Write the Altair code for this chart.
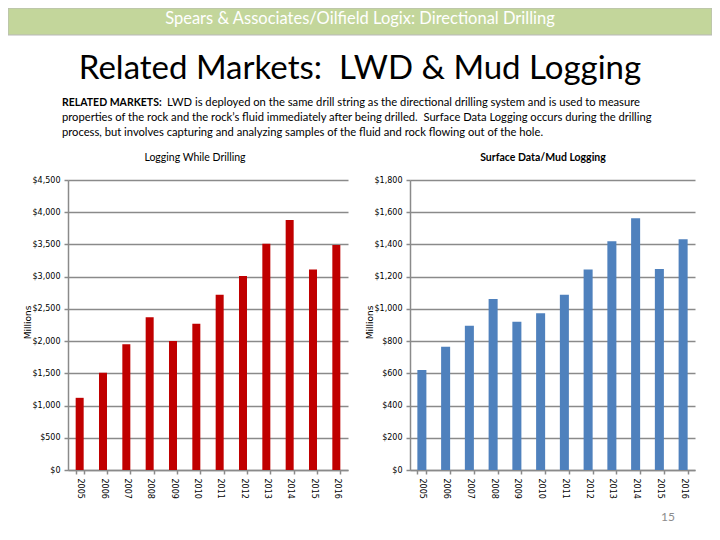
import altair as alt
import pandas as pd

# ---------------- data ----------------
years = ["2005", "2006", "2007", "2008", "2009", "2010",
         "2011", "2012", "2013", "2014", "2015", "2016"]
lwd_values = [1120, 1510, 1950, 2370, 2000, 2270, 2720, 3010, 3510, 3880, 3110, 3490]
mud_values = [620, 765, 895, 1062, 920, 973, 1087, 1245, 1420, 1562, 1248, 1432]
lwd_ticks = [0, 500, 1000, 1500, 2000, 2500, 3000, 3500, 4000, 4500]
mud_ticks = [0, 200, 400, 600, 800, 1000, 1200, 1400, 1600, 1800]

header_text = "Spears & Associates/Oilfield Logix: Directional Drilling"
title_text = "Related Markets:\u00a0 LWD & Mud Logging"
para_bold = "RELATED MARKETS:"
para_line1_rest = "LWD is deployed on the same drill string as the directional drilling system and is used to measure"
para_line2 = "properties of the rock and the rock\u2019s fluid immediately after being drilled.\u00a0 Surface Data Logging occurs during the drilling"
para_line3 = "process, but involves capturing and analyzing samples of the fluid and rock flowing out of the hole."
left_subtitle = "Logging While Drilling"
right_subtitle = "Surface Data/Mud Logging"
axis_title = "Millions"
page_number = "15"

# ---------------- style ----------------
GRID = "#8a8a8a"
RED = "#C00000"
BLUE = "#4F81BD"
BAND = "#C3D69B"
SLIDE_FONT = "Lato"
AXIS_FONT = "DejaVu Sans"

lwd_df = pd.DataFrame({"year": years, "value": lwd_values})
mud_df = pd.DataFrame({"year": years, "value": mud_values})
one = pd.DataFrame({"k": [0]})

axis_common = dict(
    labelFont=AXIS_FONT, labelFontSize=8, labelColor="#000000",
    domainColor=GRID, domainWidth=1.5, tickColor=GRID, tickWidth=1.5,
    tickSize=4, labelPadding=4,
)


def x_axis():
    return alt.Axis(orient="bottom", labelAngle=90, tickBand="extent", grid=False,
                    title=None, **axis_common)


def y_axis(ticks, offset):
    return alt.Axis(orient="left", offset=offset, values=ticks, format="$,d",
                    grid=True, gridColor=GRID, gridWidth=1.5,
                    title=axis_title, titleFont=AXIS_FONT, titleFontSize=9,
                    titleFontWeight="normal", titleColor="#000000",
                    titleX=-41, titleY=314, titleBaseline="middle", titleAngle=270,
                    **axis_common)


left = alt.Chart(lwd_df).mark_bar(color=RED).encode(
    x=alt.X("year:N", sort=years,
            scale=alt.Scale(range=[60, 340], paddingInner=0.657, paddingOuter=0.3285),
            axis=x_axis()),
    y=alt.Y("value:Q",
            scale=alt.Scale(domain=[0, 4500], range=[462, 172], nice=False),
            axis=y_axis(lwd_ticks, -60)),
)

right = alt.Chart(mud_df).mark_bar(color=BLUE).encode(
    x=alt.X("year:N", sort=years,
            scale=alt.Scale(range=[402, 687], paddingInner=0.62, paddingOuter=0.31),
            axis=x_axis()),
    y=alt.Y("value:Q",
            scale=alt.Scale(domain=[0, 1800], range=[462, 172], nice=False),
            axis=y_axis(mud_ticks, -402)),
)

band = alt.Chart(one).mark_rect(fill=BAND, stroke="#b8b8b8", strokeWidth=1).encode(
    x=alt.value(0), x2=alt.value(704), y=alt.value(0), y2=alt.value(27)
)


def text_layer(txt, x, y, size, align="left", weight="normal", color="#000000", font=SLIDE_FONT):
    return alt.Chart(pd.DataFrame({"t": [txt]})).mark_text(
        font=font, fontSize=size, align=align, baseline="middle",
        fontWeight=weight, color=color
    ).encode(text="t:N", x=alt.value(x), y=alt.value(y))


texts = [
    text_layer(header_text, 352, 11, 16.5, align="center", color="#ffffff"),
    text_layer(title_text, 352, 61, 33, align="center"),
    text_layer(para_bold, 54, 95, 10.5, weight="bold"),
    text_layer(para_line1_rest, 159, 95, 11.2),
    text_layer(para_line2, 54, 110, 11.2),
    text_layer(para_line3, 54, 125, 11.2),
    text_layer(left_subtitle, 187, 150, 10.5, align="center"),
    text_layer(right_subtitle, 535, 150, 10.5, align="center", weight="bold"),
    text_layer(page_number, 660, 509, 12, align="center", color="#8c8c8c"),
]

chart = alt.layer(band, left, right, *texts).resolve_scale(
    x="independent", y="independent"
).properties(
    width=704, height=462,
    autosize=alt.AutoSizeParams(type="none"),
    padding={"left": 0, "right": 0, "top": 0, "bottom": 62},
    background="#ffffff",
).configure_view(strokeWidth=0)

chart.save("out.html", embed_options={"renderer": "svg", "actions": False})
